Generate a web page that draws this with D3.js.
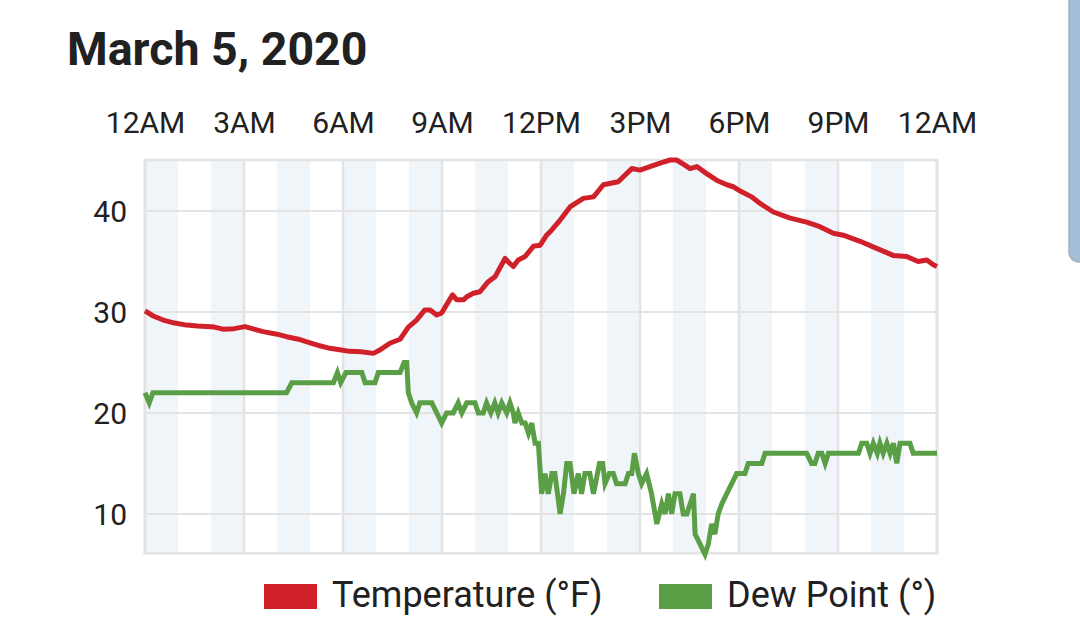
<!DOCTYPE html>
<html><head><meta charset="utf-8">
<script src="https://cdn.jsdelivr.net/npm/d3@7"></script>
<style>
body{margin:0;background:#fff;overflow:hidden;}
svg{display:block;font-family:Roboto,"Noto Sans",sans-serif;}
</style>
</head><body>
<svg id="chart" width="1080" height="620"></svg>
<script>
const title = "March 5, 2020";
const seriesNames = ["Temperature (°F)", "Dew Point (°)"];
const seriesColors = ["#d0212b", "#5a9e46"];

const tempHours = [0.00,0.25,0.55,0.90,1.26,1.60,1.87,2.10,2.36,2.70,3.03,3.30,3.58,4.00,4.29,4.65,5.00,5.30,5.60,5.90,6.20,6.55,6.92,7.10,7.42,7.73,7.98,8.23,8.48,8.64,8.84,8.99,9.19,9.32,9.45,9.65,9.75,9.95,10.15,10.40,10.61,10.91,11.01,11.16,11.31,11.52,11.77,11.97,12.17,12.32,12.58,12.88,13.28,13.59,13.89,14.34,14.75,15.00,15.30,15.61,15.91,16.11,16.36,16.52,16.72,17.02,17.32,17.63,17.83,18.08,18.38,18.64,19.04,19.55,20.05,20.45,20.86,21.16,21.67,22.17,22.67,23.08,23.43,23.69,23.90,24.00];
const tempValues = [30.1,29.6,29.2,28.9,28.7,28.6,28.55,28.5,28.3,28.35,28.55,28.3,28.05,27.8,27.55,27.3,26.95,26.65,26.4,26.25,26.1,26.05,25.9,26.2,26.9,27.3,28.5,29.2,30.2,30.2,29.7,29.9,31.0,31.7,31.2,31.2,31.5,31.85,32.0,33.0,33.5,35.3,34.95,34.5,35.15,35.5,36.5,36.6,37.6,38.1,39.1,40.4,41.25,41.4,42.6,42.9,44.2,44.05,44.4,44.75,45.05,45.05,44.55,44.2,44.4,43.7,43.05,42.6,42.4,41.9,41.4,40.75,39.9,39.3,38.9,38.45,37.8,37.6,37.0,36.3,35.6,35.5,35.0,35.15,34.65,34.5];

const dewHours = [0.00,0.13,0.24,4.29,4.45,5.71,5.83,5.93,6.09,6.57,6.67,6.97,7.07,7.73,7.85,7.93,7.98,8.08,8.23,8.33,8.69,8.84,8.99,9.14,9.34,9.49,9.60,9.75,10.00,10.10,10.25,10.35,10.48,10.60,10.70,10.81,10.96,11.06,11.16,11.21,11.31,11.42,11.52,11.62,11.72,11.82,11.92,12.02,12.12,12.22,12.33,12.42,12.58,12.68,12.78,12.88,13.00,13.13,13.23,13.33,13.48,13.59,13.77,13.87,13.94,14.07,14.19,14.29,14.55,14.65,14.75,14.83,14.95,15.05,15.20,15.35,15.51,15.66,15.76,15.86,15.96,16.06,16.21,16.31,16.42,16.62,16.67,16.82,16.97,17.07,17.17,17.27,17.37,17.48,17.63,17.78,17.93,18.18,18.28,18.69,18.79,20.05,20.20,20.30,20.40,20.51,20.61,20.71,21.62,21.72,21.87,21.97,22.07,22.19,22.27,22.37,22.48,22.58,22.68,22.78,22.88,23.18,23.28,24.00];
const dewValues = [22,21,22,22,23,23,24,23,24,24,23,23,24,24,25,25,22,21,20,21,21,20,19,20,20,21,20,21,21,20,20,21,20,21,20,21,20,21,20,19,20,19,19,18,19,17,17,12,14,12,14,14,10,12,15,15,12,14,12,14,14,12,15,15,13,14,14,13,13,14,14,16,14,13,14,12,9,11,10,12,10,12,12,10,10,12,8,7,6,7,9,8,10,11,12,13,14,14,15,15,16,16,15,15,16,16,15,16,16,17,17,16,17,16,17,16,17,16,17,15,17,17,16,16];

const tickHours = [0,3,6,9,12,15,18,21,24];
const tickLabels = ["12AM","3AM","6AM","9AM","12PM","3PM","6PM","9PM","12AM"];
const yTicks = [10,20,30,40];
const bandStarts = [0,2,4,6,8,10,12,14,16,18,20,22];

const svg = d3.select("#chart");
const x = d3.scaleLinear().domain([0,24]).range([145,937]);
const y = d3.scaleLinear().domain([6.1,45.05]).range([553.3,160]);

// decorative side panel
svg.append("rect").attr("x",1069).attr("y",-20).attr("width",40).attr("height",282)
  .attr("rx",10).attr("fill","#a5bed7").attr("stroke","#9fb0c2").attr("stroke-width",1.5);

// title
svg.append("text").attr("x",67).attr("y",65).attr("font-size",46.5).attr("font-weight",700)
  .attr("fill","#212121").text(title);

// bands
svg.append("g").selectAll("rect").data(bandStarts).join("rect")
  .attr("x",d=>x(d)).attr("width",d=>x(d+1)-x(d))
  .attr("y",y.range()[1]).attr("height",y.range()[0]-y.range()[1])
  .attr("fill","#f0f5fa");

// horizontal grid
svg.append("g").selectAll("line").data(yTicks).join("line")
  .attr("x1",x(0)).attr("x2",x(24)).attr("y1",d=>y(d)).attr("y2",d=>y(d))
  .attr("stroke","#e3e3e3").attr("stroke-width",2);
// vertical grid
svg.append("g").selectAll("line").data(tickHours).join("line")
  .attr("x1",d=>x(d)).attr("x2",d=>x(d)).attr("y1",y.range()[1]).attr("y2",y.range()[0])
  .attr("stroke","#e3e3e3").attr("stroke-width",d=>(d===0||d===24)?3:2.5);
// top and bottom border
svg.append("g").selectAll("line").data(y.range()).join("line")
  .attr("x1",x(0)-1.5).attr("x2",x(24)+1.5).attr("y1",d=>d).attr("y2",d=>d)
  .attr("stroke","#e3e3e3").attr("stroke-width",2.5);

// axes
const xAxis = svg.append("g").attr("transform","translate(0,133)")
  .call(d3.axisTop(x).tickValues(tickHours).tickFormat((d,i)=>tickLabels[i]).tickSize(0).tickPadding(0));
const yAxis = svg.append("g").attr("transform","translate(145,0)")
  .call(d3.axisLeft(y).tickValues(yTicks).tickFormat(d3.format("d")).tickSize(0).tickPadding(18));
[xAxis,yAxis].forEach(g=>{
  g.select(".domain").remove();
  g.selectAll("text").attr("font-size",30).attr("fill","#212121").attr("font-family","Roboto,sans-serif");
});
yAxis.selectAll("text").attr("dy","0.34em");

// lines
const line = d3.line().x(d=>x(d[0])).y(d=>y(d[1]));
const dewData = d3.zip(dewHours, dewValues);
const tempData = d3.zip(tempHours, tempValues);
svg.append("path").datum(dewData).attr("d",line).attr("fill","none")
  .attr("stroke",seriesColors[1]).attr("stroke-width",5);
svg.append("path").datum(tempData).attr("d",line).attr("fill","none")
  .attr("stroke",seriesColors[0]).attr("stroke-width",5).attr("stroke-linejoin","round");

// legend
const legendX = [264, 659];
const lg = svg.append("g").selectAll("g").data(seriesNames).join("g")
  .attr("transform",(d,i)=>`translate(${legendX[i]},584)`);
lg.append("rect").attr("width",53).attr("height",25).attr("fill",(d,i)=>seriesColors[i]);
lg.append("text").attr("x",68).attr("y",23).attr("font-size",36).attr("fill","#212121").text(d=>d);
</script>
</body></html>
